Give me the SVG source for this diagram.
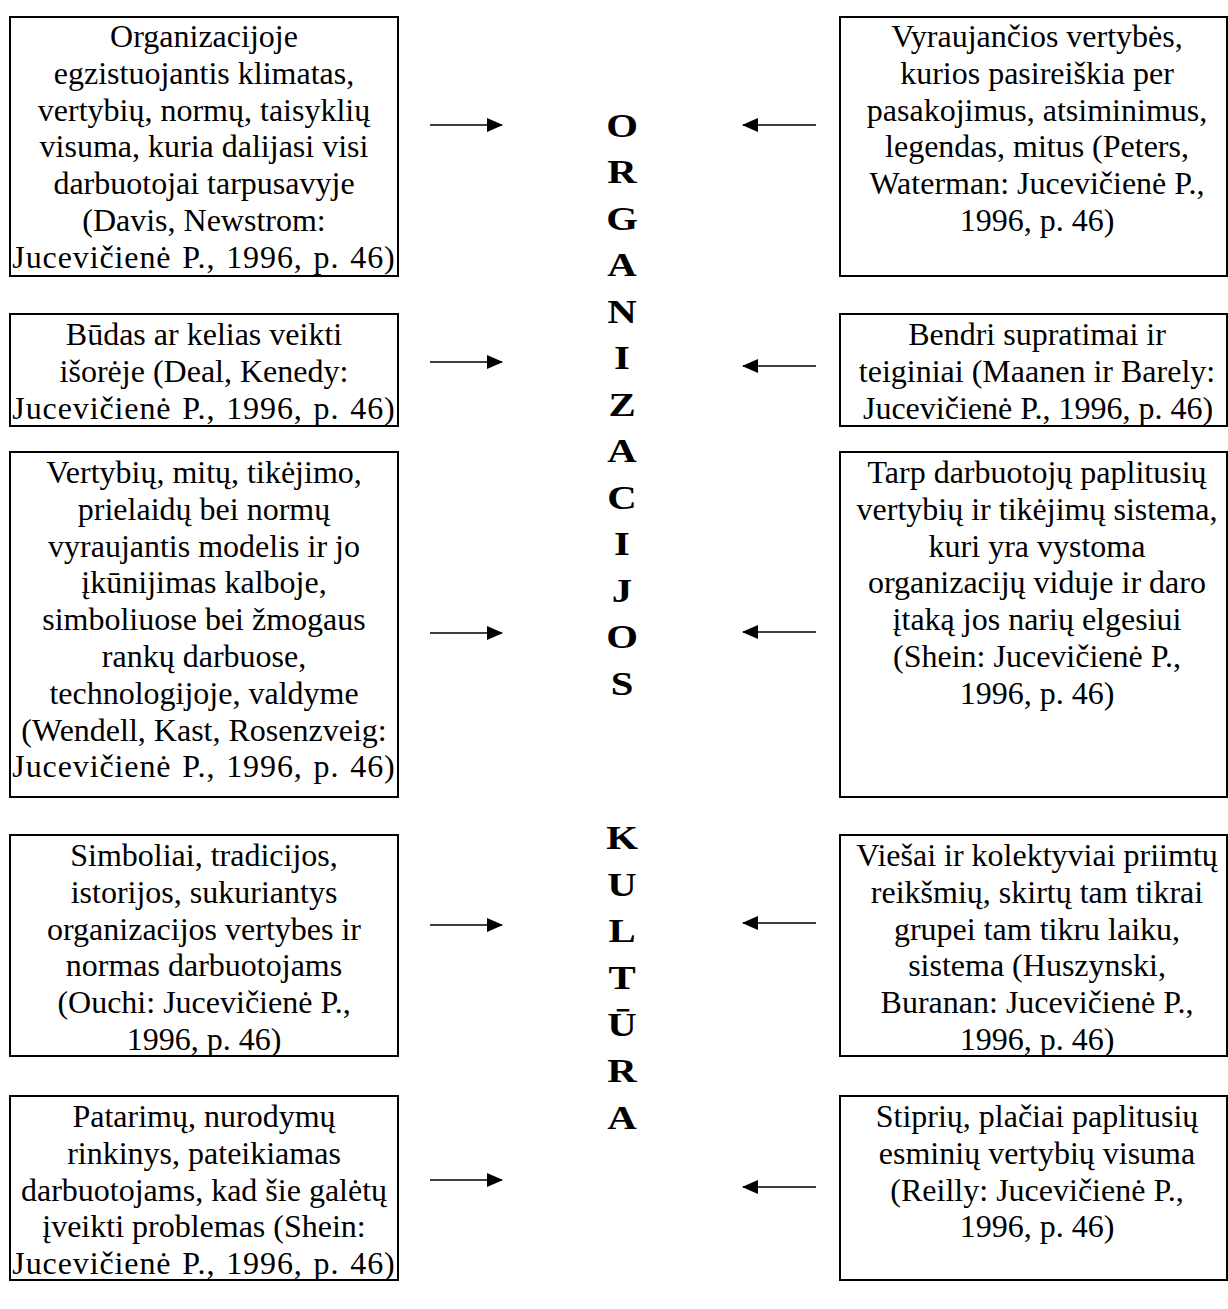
<svg xmlns="http://www.w3.org/2000/svg" width="1228" height="1309" viewBox="0 0 1228 1309">
<style>
.bx{fill:#fff;stroke:#000;stroke-width:2}
.t{font-family:"Liberation Serif","Times New Roman",serif;font-size:32px;text-anchor:middle;fill:#000}
.w{word-spacing:2px;letter-spacing:0.9px}
.L{font-family:"Liberation Serif","Times New Roman",serif;font-size:34px;font-weight:bold;text-anchor:middle;fill:#000}
.ar{stroke:#000;stroke-width:1.6;fill:none}
</style>
<defs>
<marker id="ah" markerUnits="userSpaceOnUse" markerWidth="16" markerHeight="14" refX="15" refY="7" orient="auto">
<path d="M0,0 L16,7 L0,14 Z" fill="#000"/>
</marker>
</defs>
<rect width="1228" height="1309" fill="#fff"/>

<g id="node-L1">
<rect class="bx" x="10" y="17" width="388" height="259"/>
<text class="t"><tspan x="204" y="47">Organizacijoje</tspan><tspan x="204" y="83.8">egzistuojantis klimatas,</tspan><tspan x="204" y="120.6">vertybių, normų, taisyklių</tspan><tspan x="204" y="157.4">visuma, kuria dalijasi visi</tspan><tspan x="204" y="194.2">darbuotojai tarpusavyje</tspan><tspan x="204" y="231">(Davis, Newstrom:</tspan><tspan class="w" x="204" y="267.8">Jucevičienė P., 1996, p. 46)</tspan></text>
</g>
<g id="node-R1">
<rect class="bx" x="840" y="17" width="387" height="259"/>
<text class="t"><tspan x="1037" y="47">Vyraujančios vertybės,</tspan><tspan x="1037" y="83.8">kurios pasireiškia per</tspan><tspan x="1037" y="120.6">pasakojimus, atsiminimus,</tspan><tspan x="1037" y="157.4">legendas, mitus (Peters,</tspan><tspan x="1037" y="194.2">Waterman: Jucevičienė P.,</tspan><tspan x="1037" y="231">1996, p. 46)</tspan></text>
</g>
<g id="node-L2">
<rect class="bx" x="10" y="314" width="388" height="112"/>
<text class="t"><tspan x="204" y="345">Būdas ar kelias veikti</tspan><tspan x="204" y="381.8">išorėje (Deal, Kenedy:</tspan><tspan class="w" x="204" y="418.6">Jucevičienė P., 1996, p. 46)</tspan></text>
</g>
<g id="node-R2">
<rect class="bx" x="840" y="314" width="387" height="112"/>
<text class="t"><tspan x="1037" y="345">Bendri supratimai ir</tspan><tspan x="1037" y="381.8">teiginiai (Maanen ir Barely:</tspan><tspan x="1038" y="418.6">Jucevičienė P., 1996, p. 46)</tspan></text>
</g>
<g id="node-L3">
<rect class="bx" x="10" y="452" width="388" height="345"/>
<text class="t"><tspan x="204" y="483">Vertybių, mitų, tikėjimo,</tspan><tspan x="204" y="519.8">prielaidų bei normų</tspan><tspan x="204" y="556.6">vyraujantis modelis ir jo</tspan><tspan x="204" y="593.4">įkūnijimas kalboje,</tspan><tspan x="204" y="630.2">simboliuose bei žmogaus</tspan><tspan x="204" y="667">rankų darbuose,</tspan><tspan x="204" y="703.8">technologijoje, valdyme</tspan><tspan x="204" y="740.6">(Wendell, Kast, Rosenzveig:</tspan><tspan class="w" x="204" y="777.4">Jucevičienė P., 1996, p. 46)</tspan></text>
</g>
<g id="node-R3">
<rect class="bx" x="840" y="452" width="387" height="345"/>
<text class="t"><tspan x="1037" y="483">Tarp darbuotojų paplitusių</tspan><tspan x="1037" y="519.8">vertybių ir tikėjimų sistema,</tspan><tspan x="1037" y="556.6">kuri yra vystoma</tspan><tspan x="1037" y="593.4">organizacijų viduje ir daro</tspan><tspan x="1037" y="630.2">įtaką jos narių elgesiui</tspan><tspan x="1037" y="667">(Shein: Jucevičienė P.,</tspan><tspan x="1037" y="703.8">1996, p. 46)</tspan></text>
</g>
<g id="node-L4">
<rect class="bx" x="10" y="835" width="388" height="221"/>
<text class="t"><tspan x="204" y="866">Simboliai, tradicijos,</tspan><tspan x="204" y="902.8">istorijos, sukuriantys</tspan><tspan x="204" y="939.6">organizacijos vertybes ir</tspan><tspan x="204" y="976.4">normas darbuotojams</tspan><tspan x="204" y="1013.2">(Ouchi: Jucevičienė P.,</tspan><tspan x="204" y="1050">1996, p. 46)</tspan></text>
</g>
<g id="node-R4">
<rect class="bx" x="840" y="835" width="387" height="221"/>
<text class="t"><tspan x="1037" y="866">Viešai ir kolektyviai priimtų</tspan><tspan x="1037" y="902.8">reikšmių, skirtų tam tikrai</tspan><tspan x="1037" y="939.6">grupei tam tikru laiku,</tspan><tspan x="1037" y="976.4">sistema (Huszynski,</tspan><tspan x="1037" y="1013.2">Buranan: Jucevičienė P.,</tspan><tspan x="1037" y="1050">1996, p. 46)</tspan></text>
</g>
<g id="node-L5">
<rect class="bx" x="10" y="1096" width="388" height="184"/>
<text class="t"><tspan x="204" y="1127">Patarimų, nurodymų</tspan><tspan x="204" y="1163.8">rinkinys, pateikiamas</tspan><tspan x="204" y="1200.6">darbuotojams, kad šie galėtų</tspan><tspan x="204" y="1237.4">įveikti problemas (Shein:</tspan><tspan class="w" x="204" y="1274.2">Jucevičienė P., 1996, p. 46)</tspan></text>
</g>
<g id="node-R5">
<rect class="bx" x="840" y="1096" width="387" height="184"/>
<text class="t"><tspan x="1037" y="1127">Stiprių, plačiai paplitusių</tspan><tspan x="1037" y="1163.8">esminių vertybių visuma</tspan><tspan x="1037" y="1200.6">(Reilly: Jucevičienė P.,</tspan><tspan x="1037" y="1237.4">1996, p. 46)</tspan></text>
</g>

<g id="node-title">
<g transform="translate(622,0) scale(1.2,1)">
<text class="L" x="0" y="137">O</text>
<text class="L" x="0" y="183.5">R</text>
<text class="L" x="0" y="230">G</text>
<text class="L" x="0" y="276.5">A</text>
<text class="L" x="0" y="323">N</text>
<text class="L" x="0" y="369.5">I</text>
<text class="L" x="0" y="416">Z</text>
<text class="L" x="0" y="462.5">A</text>
<text class="L" x="0" y="509">C</text>
<text class="L" x="0" y="555.5">I</text>
<text class="L" x="0" y="602">J</text>
<text class="L" x="0" y="648.5">O</text>
<text class="L" x="0" y="695">S</text>
<text class="L" x="0" y="849">K</text>
<text class="L" x="0" y="895.7">U</text>
<text class="L" x="0" y="942.3">L</text>
<text class="L" x="0" y="989">T</text>
<text class="L" x="0" y="1035.7">Ū</text>
<text class="L" x="0" y="1082.3">R</text>
<text class="L" x="0" y="1129">A</text>
</g>
</g>

<g id="connectors">
<line class="ar" x1="430" y1="125" x2="502" y2="125" marker-end="url(#ah)"/>
<line class="ar" x1="816" y1="125" x2="743" y2="125" marker-end="url(#ah)"/>
<line class="ar" x1="430" y1="362" x2="502" y2="362" marker-end="url(#ah)"/>
<line class="ar" x1="816" y1="366" x2="743" y2="366" marker-end="url(#ah)"/>
<line class="ar" x1="430" y1="633" x2="502" y2="633" marker-end="url(#ah)"/>
<line class="ar" x1="816" y1="632" x2="743" y2="632" marker-end="url(#ah)"/>
<line class="ar" x1="430" y1="925" x2="502" y2="925" marker-end="url(#ah)"/>
<line class="ar" x1="816" y1="923" x2="743" y2="923" marker-end="url(#ah)"/>
<line class="ar" x1="430" y1="1180" x2="502" y2="1180" marker-end="url(#ah)"/>
<line class="ar" x1="816" y1="1187" x2="743" y2="1187" marker-end="url(#ah)"/>
</g>
</svg>
